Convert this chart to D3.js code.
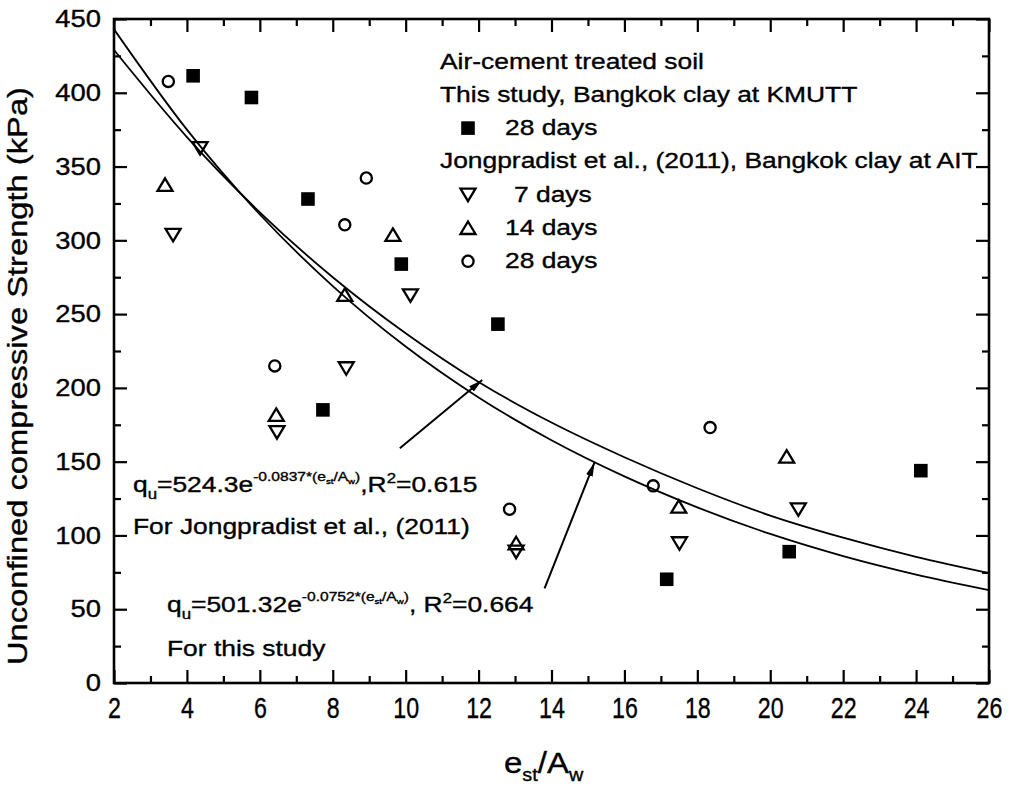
<!DOCTYPE html>
<html>
<head>
<meta charset="utf-8">
<script src="https://cdn.jsdelivr.net/npm/d3@7"></script>
<style>
body { margin: 0; background: #fff; }
svg { display: block; font-family: "Liberation Sans", Arial, sans-serif; }
svg text { stroke: #000; stroke-width: 0.35px; }
</style>
</head>
<body>
<script>
// values
const xTickLabels = [2, 4, 6, 8, 10, 12, 14, 16, 18, 20, 22, 24, 26];
const yTickLabels = [0, 50, 100, 150, 200, 250, 300, 350, 400, 450];

// this study, Bangkok clay at KMUTT, 28 days [est/Aw, qu]
const study28 = [[4.17, 411.5], [5.77, 396.8], [7.32, 328], [9.88, 283.9], [12.53, 243.2],
	[7.73, 185.1], [17.16, 70.3], [20.52, 89.0], [24.13, 143.9]];
// Jongpradist et al. (2011), Bangkok clay at AIT
const ait7 = [[4.36, 362.5], [3.62, 303.7], [6.47, 170], [8.37, 213.3], [10.13, 262.7],
	[13.03, 89], [17.51, 94.7], [20.77, 117.7]];
const ait14 = [[3.40, 337.6], [6.45, 181.7], [8.33, 263], [9.65, 303.7], [13.03, 94.7],
	[17.49, 119.5], [20.45, 153.4]];
const ait28 = [[3.49, 407.7], [6.41, 214.9], [8.33, 310.5], [8.92, 342.2], [12.85, 117.8],
	[16.79, 133.6], [18.35, 173.1]];

// fitted curves, read along their drawn path
const fitX = [2, 4, 6, 8, 10, 12, 14, 16, 18, 20, 22, 24, 26];
const fitStudy = [429, 370, 319, 275, 237, 204, 176.5, 153, 132, 113.5, 98.5, 85.5, 74.5];
const fitJong = [443, 375, 317.5, 269, 228, 193.5, 164.5, 140, 119, 101, 86, 73.5, 63];

// annotation arrows [from, to]
const arrows = [
	[[9.84, 159.1], [12.10, 205.3]],
	[[13.81, 64.2], [15.18, 149.5]]
];

const w = 1013;
const h = 785;
const plot = { left: 114, right: 989, top: 19, bottom: 683 };
const sx = 1.2; // the scanned lettering is wide

const svg = d3.select('body').append('svg')
	.attr('width', w)
	.attr('height', h);

const x = d3.scaleLinear().domain([2, 26]).range([plot.left, plot.right]);
const y = d3.scaleLinear().domain([0, 450]).range([plot.bottom, plot.top]);

const xMinor = d3.range(3, 26, 2);
const yMinor = d3.range(25, 450, 50);

svg.append('defs').append('marker')
	.attr('id', 'head')
	.attr('markerUnits', 'userSpaceOnUse')
	.attr('markerWidth', 16)
	.attr('markerHeight', 10)
	.attr('refX', 14)
	.attr('refY', 5)
	.attr('orient', 'auto')
	.append('path')
	.attr('d', 'M0,1.5 L14,5 L0,8.5 Z')
	.attr('fill', '#000');

// axes (ticks pointing inward on all four sides)
const gx = svg.append('g').attr('transform', `translate(0,${plot.bottom})`);
gx.call(d3.axisBottom(x).tickValues(xTickLabels).tickSize(-13).tickPadding(14));
gx.append('g').call(d3.axisBottom(x).tickValues(xMinor).tickSize(-7).tickFormat(''));
gx.selectAll('text')
	.attr('fill', '#000')
	.style('font-size', '29px')
	.attr('transform', 'scale(0.8,1)');

const gy = svg.append('g').attr('transform', `translate(${plot.left},0)`);
gy.call(d3.axisLeft(y).tickValues(yTickLabels).tickSize(-13));
gy.append('g').call(d3.axisLeft(y).tickValues(yMinor).tickSize(-7).tickFormat(''));
gy.selectAll('text')
	.attr('fill', '#000')
	.attr('x', 0)
	.style('font-size', '24px')
	.attr('transform', `translate(-13,0) scale(1.14,1)`);

const gt = svg.append('g').attr('transform', `translate(0,${plot.top})`);
gt.call(d3.axisTop(x).tickValues(xTickLabels).tickSize(-13).tickFormat(''));
gt.append('g').call(d3.axisTop(x).tickValues(xMinor).tickSize(-7).tickFormat(''));

const gr = svg.append('g').attr('transform', `translate(${plot.right},0)`);
gr.call(d3.axisRight(y).tickValues(yTickLabels).tickSize(-13).tickFormat(''));
gr.append('g').call(d3.axisRight(y).tickValues(yMinor).tickSize(-7).tickFormat(''));

svg.selectAll('.domain').remove();
svg.selectAll('.tick line').attr('stroke', '#000').attr('stroke-width', 2.2);

svg.append('rect')
	.attr('x', plot.left)
	.attr('y', plot.top)
	.attr('width', plot.right - plot.left)
	.attr('height', plot.bottom - plot.top)
	.attr('fill', 'none')
	.attr('stroke', '#000')
	.attr('stroke-width', 2.6);

// fitted curves
const line = d3.line()
	.x(d => x(d[0]))
	.y(d => y(d[1]))
	.curve(d3.curveMonotoneX);

[fitStudy, fitJong].forEach(series => {
	svg.append('path')
		.datum(d3.zip(fitX, series))
		.attr('d', line)
		.attr('fill', 'none')
		.attr('stroke', '#000')
		.attr('stroke-width', 1.8);
});

// arrows
svg.selectAll('.arrow')
	.data(arrows)
	.enter()
	.append('line')
	.attr('class', 'arrow')
	.attr('x1', d => x(d[0][0]))
	.attr('y1', d => y(d[0][1]))
	.attr('x2', d => x(d[1][0]))
	.attr('y2', d => y(d[1][1]))
	.attr('stroke', '#000')
	.attr('stroke-width', 2)
	.attr('marker-end', 'url(#head)');

// markers
const triUp = 'M0,-6.5 L7.5,6 L-7.5,6 Z';
const triDown = 'M0,6.5 L7.5,-6 L-7.5,-6 Z';

function square(g) {
	g.append('rect').attr('x', -6.8).attr('y', -6.8).attr('width', 13.6).attr('height', 13.6).attr('fill', '#000');
}
function circle(g) {
	g.append('circle').attr('r', 5.6).attr('fill', 'none').attr('stroke', '#000').attr('stroke-width', 2.3);
}
function up(g) {
	g.append('path').attr('d', triUp).attr('fill', 'none').attr('stroke', '#000').attr('stroke-width', 2.3);
}
function down(g) {
	g.append('path').attr('d', triDown).attr('fill', 'none').attr('stroke', '#000').attr('stroke-width', 2.3);
}

function points(data, draw) {
	svg.append('g').selectAll('g')
		.data(data)
		.enter()
		.append('g')
		.attr('transform', d => `translate(${x(d[0])},${y(d[1])})`)
		.each(function () { draw(d3.select(this)); });
}

points(ait28, circle);
points(ait14, up);
points(ait7, down);
points(study28, square);

// legend
function label(px, py, size, stretch) {
	return svg.append('text')
		.attr('transform', `translate(${px},${py}) scale(${stretch},1)`)
		.style('font-size', size + 'px')
		.attr('fill', '#000');
}

const legendRows = [
	{ text: 'Air-cement treated soil', draw: null },
	{ text: 'This study, Bangkok clay at KMUTT', draw: null },
	{ text: '28 days', draw: square },
	{ text: 'Jongpradist et al., (2011), Bangkok clay at AIT', draw: null },
	{ text: '7 days', draw: down },
	{ text: '14 days', draw: up },
	{ text: '28 days', draw: circle }
];

legendRows.forEach((row, i) => {
	const by = 68.5 + i * 33.3;
	if (row.draw) {
		const g = svg.append('g').attr('transform', `translate(468,${by - 7})`);
		row.draw(g);
		label(row.text === '7 days' ? 514 : 505, by, 22, sx).text(row.text);
	} else {
		label(440, by, 22, sx).text(row.text);
	}
});

// equations
function equation(px, py, coef, expo, r2, sep) {
	const t = label(px, py, 22, sx);
	t.append('tspan').text('q');
	t.append('tspan').attr('dy', 7).style('font-size', '14px').text('u');
	t.append('tspan').attr('dy', -7).text('=' + coef + 'e');
	t.append('tspan').attr('dy', -11).style('font-size', '13px').text(expo + '*(e');
	t.append('tspan').attr('dy', 3).style('font-size', '8px').text('st');
	t.append('tspan').attr('dy', -3).style('font-size', '13px').text('/A');
	t.append('tspan').attr('dy', 3).style('font-size', '8px').text('w');
	t.append('tspan').attr('dy', -3).style('font-size', '13px').text(')');
	t.append('tspan').attr('dy', 11).text(sep + 'R');
	t.append('tspan').attr('dy', -9).style('font-size', '14px').text('2');
	t.append('tspan').attr('dy', 9).text('=' + r2);
}

equation(133, 492, '524.3', '-0.0837', '0.615', ',');
label(133, 534, 22, sx).text('For Jongpradist et al., (2011)');
equation(167, 612, '501.32', '-0.0752', '0.664', ', ');
label(167, 656, 22, sx).text('For this study');

// axis titles
const xt = label(504, 773, 30, 1.1);
xt.append('tspan').text('e');
xt.append('tspan').attr('dy', 8).style('font-size', '18px').text('st');
xt.append('tspan').attr('dy', -8).text('/A');
xt.append('tspan').attr('dy', 8).style('font-size', '18px').text('w');

svg.append('text')
	.attr('transform', `translate(27,${(plot.top + plot.bottom) / 2 + 25}) rotate(-90)`)
	.attr('text-anchor', 'middle')
	.attr('textLength', 578)
	.attr('lengthAdjust', 'spacingAndGlyphs')
	.style('font-size', '28px')
	.attr('fill', '#000')
	.text('Unconfined compressive Strength (kPa)');
</script>
</body>
</html>
